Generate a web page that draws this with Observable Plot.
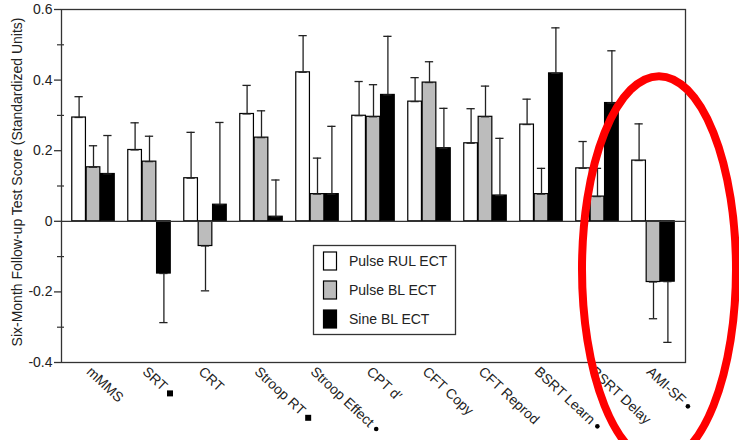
<!DOCTYPE html>
<html>
<head>
<meta charset="utf-8">
<script src="https://cdn.jsdelivr.net/npm/d3@7"></script>
<script src="https://cdn.jsdelivr.net/npm/@observablehq/plot@0.6"></script>
<style>
  html, body { margin: 0; padding: 0; background: #fff; }
</style>
</head>
<body>
<script>
// ---- data ----
const categories = ["mMMS", "SRT", "CRT", "Stroop RT", "Stroop Effect", "CPT d′", "CFT Copy", "CFT Reprod", "BSRT Learn", "BSRT Delay", "AMI-SF"];
const xTickLabels = ["mMMS", "SRT", "CRT", "Stroop RT", "Stroop Effect", "CPT d′", "CFT Copy", "CFT Reprod", "BSRT Learn", "BSRT Delay", "AMI-SF"];
const xTickMarkers = ["", "square", "", "square", "circle", "", "", "", "circle", "", "circle"];
const seriesNames = ["Pulse RUL ECT", "Pulse BL ECT", "Sine BL ECT"];
const seriesFills = ["#ffffff", "#bcbcbc", "#000000"];

const pulseRUL    = [0.294, 0.202, 0.122, 0.304, 0.422, 0.299, 0.339, 0.221, 0.274, 0.150, 0.172];
const pulseRULErr = [0.059, 0.077, 0.130, 0.081, 0.104, 0.097, 0.068, 0.098, 0.072, 0.076, 0.104];
const pulseBL     = [0.153, 0.169, -0.070, 0.237, 0.077, 0.296, 0.393, 0.296, 0.077, 0.070, -0.172];
const pulseBLErr  = [0.061, 0.072, 0.127, 0.076, 0.102, 0.091, 0.059, 0.087, 0.073, 0.080, 0.104];
const sineBL      = [0.134, -0.148, 0.047, 0.013, 0.077, 0.358, 0.207, 0.073, 0.419, 0.335, -0.171];
const sineBLErr   = [0.109, 0.139, 0.233, 0.104, 0.192, 0.166, 0.113, 0.162, 0.129, 0.148, 0.172];

const yTicks = [-0.4, -0.2, 0, 0.2, 0.4, 0.6];
const yTickLabels = ["-0.4", "-0.2", "0", "0.2", "0.4", "0.6"];
const yMinorTicks = [-0.3, -0.1, 0.1, 0.3, 0.5];
const yLabel = "Six-Month Follow-up Test Score (Standardized Units)";

// ---- table ----
const values = [pulseRUL, pulseBL, sineBL];
const errs = [pulseRULErr, pulseBLErr, sineBLErr];
const table = [];
categories.forEach((c, i) => {
  seriesNames.forEach((s, k) => {
    const v = values[k][i], e = errs[k][i];
    table.push({cat: c, series: s, k, value: v, hi: v + Math.sign(v) * e});
  });
});

// ---- layout ----
const W = 739, H = 440;
const mL = 61, mR = 54, mT = 9, mB = 78;
const bw = (W - mL - mR) / categories.length;   // band width
const barW = 14.4;
const off = (bw - 3 * barW) / 2;
const capW = 9;
const font = "'Liberation Sans', Arial, Helvetica, sans-serif";
const fs = 14;
const ink = "#222";

const marks = [];
seriesNames.forEach((s, k) => {
  const d = table.filter(r => r.k === k);
  const left = off + k * barW;
  const center = left + barW / 2;
  marks.push(Plot.barY(d, {
    x: "cat", y: "value", fill: seriesFills[k], stroke: "#000", strokeWidth: 1.2,
    insetLeft: left, insetRight: bw - left - barW
  }));
  marks.push(Plot.ruleX(d, {x: "cat", y1: "value", y2: "hi", dx: center - bw / 2, stroke: "#222", strokeWidth: 1.3}));
  marks.push(Plot.tickY(d, {x: "cat", y: "hi", stroke: "#222", strokeWidth: 1.3,
    insetLeft: center - capW / 2, insetRight: bw - center - capW / 2}));
  marks.push(Plot.tickY(d, {x: "cat", y: "value", stroke: "#222", strokeWidth: 1.2,
    insetLeft: center - capW / 2, insetRight: bw - center - capW / 2}));
});

// x tick labels (rotated) and their upright markers at the end of each label
const rot = 43, lblDx = -1, lblDy = 3;
const ctx = document.createElement("canvas").getContext("2d");
ctx.font = `${fs}px 'Liberation Sans', Arial, sans-serif`;
const th = rot * Math.PI / 180;
const markerMarks = [];
categories.forEach((c, i) => {
  const m = xTickMarkers[i];
  if (!m) return;
  const size = m === "square" ? 6 : 4.6;
  const along = ctx.measureText(xTickLabels[i]).width + 4 + size / 2;
  const across = 0.41 * fs;
  const ddx = lblDx + along * Math.cos(th) - across * Math.sin(th);
  const ddy = lblDy + along * Math.sin(th) + across * Math.cos(th);
  markerMarks.push(Plot.dot([c], {
    x: d => d, frameAnchor: "bottom", symbol: m, fill: "#000", stroke: "none",
    r: m === "square" ? size / Math.sqrt(Math.PI) : size / 2, dx: ddx, dy: ddy
  }));
});

const plot = Plot.plot({
  width: W, height: H,
  marginLeft: mL, marginRight: mR, marginTop: mT, marginBottom: mB,
  style: {fontFamily: font, fontSize: fs + "px", color: ink, background: "#fff"},
  x: {domain: categories, padding: 0, axis: null},
  y: {domain: [-0.4, 0.6], axis: null},
  marks: [
    ...marks,
    Plot.ruleY([0], {stroke: "#333", strokeWidth: 1.3}),
    Plot.frame({stroke: "#333", strokeWidth: 1.3}),
    Plot.axisY(yTicks, {tickSize: 7, tickPadding: 2, stroke: "#333", strokeWidth: 1.3,
      tickFormat: d => yTickLabels[yTicks.indexOf(d)], fontSize: fs, fill: ink, label: null}),
    Plot.axisY(yMinorTicks, {tickSize: 7, dx: 3, stroke: "#333", strokeWidth: 1.2,
      tickFormat: () => "", label: null}),
    Plot.text([yLabel], {text: d => d, frameAnchor: "left", textAnchor: "middle", rotate: -90,
      dx: -44, dy: -4, fontSize: fs, fill: ink}),
    Plot.text(categories.map((c, i) => ({c, label: xTickLabels[i]})), {
      x: "c", text: "label", frameAnchor: "bottom", rotate: rot,
      textAnchor: "start", lineAnchor: "top", dx: lblDx, dy: lblDy, fontSize: fs, fill: ink
    }),
    ...markerMarks
  ]
});
document.body.appendChild(plot);

// ---- legend (inside plot area) ----
const svg = d3.select(plot);
const lg = svg.append("g").attr("font-family", font).attr("font-size", fs).attr("text-anchor", "start");
lg.append("rect").attr("x", 313.5).attr("y", 245.5).attr("width", 142).attr("height", 89)
  .attr("fill", "#fff").attr("stroke", "#333").attr("stroke-width", 1.3);
seriesNames.forEach((s, k) => {
  const cy = 261 + k * 29;
  lg.append("rect").attr("x", 323.5).attr("y", cy - 9).attr("width", 13).attr("height", 18)
    .attr("fill", seriesFills[k]).attr("stroke", "#000").attr("stroke-width", 1.2);
  lg.append("text").attr("x", 349).attr("y", cy).attr("dy", "0.35em").attr("fill", ink).text(s);
});

// ---- red annotation ellipse around the last two groups ----
const xs = plot.scale("x"), ys = plot.scale("y");
const cx = xs.apply("AMI-SF") + xs.bandwidth / 2 + 6;
const cyE = ys.apply(-0.137);
svg.append("ellipse").attr("cx", cx).attr("cy", cyE).attr("rx", 77).attr("ry", 193)
  .attr("fill", "none").attr("stroke", "#ff0000").attr("stroke-width", 8);
</script>
</body>
</html>
